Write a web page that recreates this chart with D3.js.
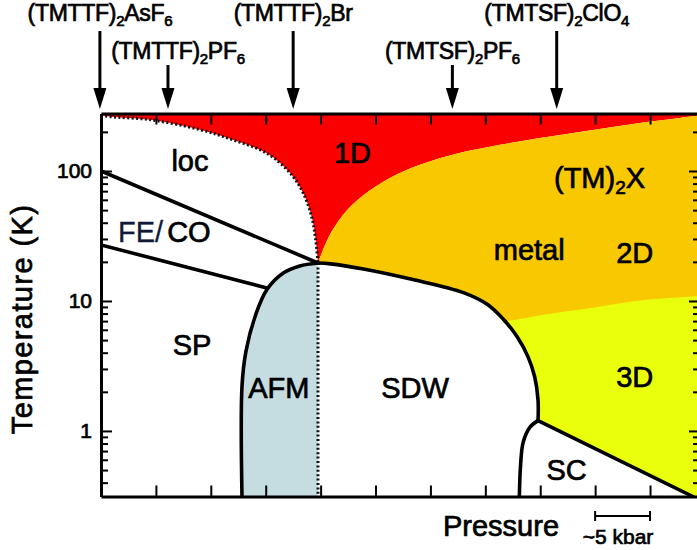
<!DOCTYPE html>
<html><head><meta charset="utf-8">
<script src="https://cdn.jsdelivr.net/npm/d3@7"></script>
<style>
body{margin:0;background:#fff}
svg{display:block}
text{font-family:"Liberation Sans",Arial,Helvetica,sans-serif;fill:#000;stroke:#000;stroke-width:0.7px}
</style>
</head><body>
<svg id="chart" width="697" height="550"></svg>
<script>
// ---------- data (pressure in kbar, temperature in K) ----------
const xTicks = [5,10,15,20,25,30,35,40,45,50];
const yMajorTicks = [1,10,100];
const yTickLabels = ["1","10","100"];
const yMinorTicks = [0.4,0.5,0.6,0.7,0.8,0.9,2,3,4,5,6,7,8,9,20,30,40,50,60,70,80,90,200];

const compoundNames = [
  [["(TMTTF)",0],["2",1],["AsF",0],["6",1]],
  [["(TMTTF)",0],["2",1],["PF",0],["6",1]],
  [["(TMTTF)",0],["2",1],["Br",0]],
  [["(TMTSF)",0],["2",1],["PF",0],["6",1]],
  [["(TMTSF)",0],["2",1],["ClO",0],["4",1]]
];
const compoundPressure = [-0.1, 6.1, 17.5, 32.0, 41.5];
const compoundRow = [0, 1, 0, 1, 0];

const locBoundary = [[0,268],[0.8,262],[4.5,248],[9,208],[12,174],[15.1,137],[17.2,97],[18.4,68],[19.2,44],[19.55,29.5],[19.76,19.6]];
const boundary1D2D = [[19.76,19.6],[20.9,33],[22.4,50],[24.5,71],[27,95],[30,119],[33,140],[35.4,154],[37.5,166],[40.6,183],[43.6,200],[46.6,218],[49.7,238],[52.7,256],[54.6,268]];
const boundary2D3D = [[36.5,6.9],[37.5,7.1],[40.6,7.9],[45.2,9.0],[49.7,10.2],[54.6,10.9]];
const sdwBoundary = [[19.76,19.6],[20.9,19.3],[23.9,17.6],[28.4,14.6],[33.0,11.6],[35.2,9.4],[36.6,7.3],[37.9,5.3],[38.9,3.7],[39.5,2.6],[39.8,1.73],[39.8,1.2]];
const scLeftBoundary = [[39.8,1.2],[39.07,1.07],[38.45,0.82],[38.2,0.53],[38.1,0.313]];
const scRightBoundary = [[39.8,1.2],[53.9,0.313]];
const afmBoundary = [[12.84,0.313],[12.84,2.2],[13.2,4.1],[14.1,7.9],[15.1,12.2],[16.6,16.4],[18.1,18.6],[19.76,19.6]];
const afmSdwBoundary = [[19.76,19.6],[19.76,0.313]];
const feCoUpper = [[0,100],[19.76,19.6]];
const feCoLower = [[0,27],[15.1,12.6]];

const regionLabels = [
  {t:"loc", p:8.1, T:100},
  {t:"SP", p:8.3, T:3.84},
  {t:"AFM", p:16.2, T:1.79},
  {t:"SDW", p:28.6, T:1.79},
  {t:"SC", p:42.4, T:0.42},
  {t:"1D", p:22.9, T:115},
  {t:"metal", p:39.0, T:20.6},
  {t:"2D", p:48.6, T:19.6},
  {t:"3D", p:48.6, T:2.18}
];

// ---------- layout ----------
const svg = d3.select("#chart");
const x = d3.scaleLinear().domain([0, 54.55]).range([101, 700]);
const y = d3.scaleLog().domain([0.313, 277]).range([496.5, 113.5]);
const [P0, P1] = x.domain();
const [T0, T1] = y.domain();

const COL = {red:"#fa0000", orange:"#f8c800", yellow:"#eaff0c", blue:"#c5dde0"};

svg.append("defs").append("clipPath").attr("id","plotclip")
  .append("rect").attr("x",101).attr("y",113.5).attr("width",599).attr("height",383);

const curve = d3.line().x(d=>x(d[0])).y(d=>y(d[1])).curve(d3.curveCatmullRom.alpha(0.5));
const straight = d3.line().x(d=>x(d[0])).y(d=>y(d[1]));
function poly(segs){
  return segs.map((s,i)=>{const p=(s[1]?curve:straight)(s[0]); return i? p.replace(/^M/,"L") : p;}).join("")+"Z";
}
const rev = a => a.slice().reverse();

const g = svg.append("g").attr("clip-path","url(#plotclip)");

// red (1D)
g.append("path").attr("fill",COL.red).attr("d", poly([
  [[[P0,T1*1.5],[P1+1,T1*1.5],[P1+1,boundary1D2D[boundary1D2D.length-1][1]]],0],
  [rev(boundary1D2D),1],
  [rev(locBoundary),1],
  [[[P0,T1*1.5]],0]
]));
// orange (2D)
g.append("path").attr("fill",COL.orange).attr("d", poly([
  [boundary1D2D,1],
  [[[P1+1,boundary1D2D[boundary1D2D.length-1][1]],[P1+1,T0*0.5],[19.76,T0*0.5]],0]
]));
// yellow (3D)
g.append("path").attr("fill",COL.yellow).attr("d", poly([
  [boundary2D3D,1],
  [[[P1+1,boundary2D3D[boundary2D3D.length-1][1]],[P1+1,T0*0.5],[36.5,T0*0.5]],0]
]));
// SDW white
g.append("path").attr("fill","#fff").attr("d", poly([
  [sdwBoundary,1],
  [scLeftBoundary,1],
  [[[38.1,T0*0.5],[19.76,T0*0.5]],0]
]));
// SC white
g.append("path").attr("fill","#fff").attr("d", poly([
  [scRightBoundary,0],
  [[[38.1,T0]],0],
  [rev(scLeftBoundary),1]
]));
// AFM
g.append("path").attr("fill",COL.blue).attr("d", poly([
  [afmBoundary,1],
  [[[19.76,T0*0.5],[12.84,T0*0.5]],0]
]));

// boundaries
const solid = (d,c)=>g.append("path").attr("d",(c?curve:straight)(d)).attr("fill","none")
  .attr("stroke","#000").attr("stroke-width",3.6).attr("stroke-linejoin","round").attr("stroke-linecap","round");
const dotted = (d,c)=>g.append("path").attr("d",(c?curve:straight)(d)).attr("fill","none")
  .attr("stroke","#111").attr("stroke-width",3).attr("stroke-dasharray","2,2.4");
dotted(locBoundary,1);
dotted(afmSdwBoundary,0);
solid(sdwBoundary,1);
solid(scLeftBoundary,1);
solid(scRightBoundary,0);
solid(afmBoundary,1);
solid(feCoUpper,0);
solid(feCoLower,0);

// axes
function styleAxis(sel, w){
  sel.select(".domain").attr("stroke","#000").attr("stroke-width",w||3);
  sel.selectAll(".tick line").attr("stroke","#000").attr("stroke-width",2);
}
styleAxis(svg.append("g").attr("transform","translate(0,496.5)")
  .call(d3.axisBottom(x).tickValues(xTicks).tickSize(-11).tickSizeOuter(0).tickFormat("")));
styleAxis(svg.append("g").attr("transform","translate(0,113.5)")
  .call(d3.axisTop(x).tickValues(xTicks).tickSize(-11).tickSizeOuter(0).tickFormat("")));
const leftAx = svg.append("g").attr("transform","translate(101,0)")
  .call(d3.axisLeft(y).tickValues(yMajorTicks).tickSize(-11).tickSizeOuter(0).tickPadding(9)
    .tickFormat((d,i)=>yTickLabels[i]));
styleAxis(leftAx);
leftAx.selectAll(".tick text").attr("font-size",21).attr("font-family","Liberation Sans, Arial, sans-serif").attr("fill","#000");
styleAxis(svg.append("g").attr("transform","translate(101,0)")
  .call(d3.axisLeft(y).tickValues(yMinorTicks).tickSize(-7).tickSizeOuter(0).tickFormat("")));
styleAxis(svg.append("g").attr("transform","translate(700,0)")
  .call(d3.axisRight(y).tickValues(yMajorTicks).tickSize(-11).tickSizeOuter(0).tickFormat("")));
styleAxis(svg.append("g").attr("transform","translate(700,0)")
  .call(d3.axisRight(y).tickValues(yMinorTicks).tickSize(-7).tickSizeOuter(0).tickFormat("")));

// region labels
svg.selectAll("text.region").data(regionLabels).join("text").attr("class","region")
  .attr("x",d=>x(d.p)).attr("y",d=>y(d.T)).attr("text-anchor","middle")
  .attr("font-size",29).text(d=>d.t);

// (TM)2X
const tmx = svg.append("text").attr("x",x(45.4)).attr("y",y(73.8)).attr("text-anchor","middle").attr("font-size",29);
tmx.append("tspan").text("(TM)");
tmx.append("tspan").attr("font-size",19).attr("dy",6).text("2");
tmx.append("tspan").attr("dy",-6).text("X");

// FE/CO
const feco = svg.append("text").attr("x",118).attr("y",242).attr("font-size",29);
feco.append("tspan").attr("fill","#121838").attr("stroke","#121838").attr("stroke-width",0.3).text("FE/");
feco.append("tspan").attr("dx",4).text("CO");

// compounds + arrows
const rowBase = [21, 59];
const rowArrowTop = [31, 65];
const labelShift = [0, 10, 0, 0, 0];
compoundNames.forEach((parts,i)=>{
  const px = x(compoundPressure[i]);
  const t = svg.append("text").attr("x",px+labelShift[i]).attr("y",rowBase[compoundRow[i]])
    .attr("text-anchor","middle").attr("font-size",23).attr("letter-spacing",-0.3);
  let sub=false;
  parts.forEach(([s,isSub])=>{
    const ts = t.append("tspan").text(s);
    if(isSub && !sub){ts.attr("font-size",15).attr("dy",5); sub=true;}
    else if(!isSub && sub){ts.attr("dy",-5); sub=false;}
    else if(isSub){ts.attr("font-size",15);}
  });
  svg.append("line").attr("x1",px).attr("x2",px).attr("y1",rowArrowTop[compoundRow[i]]).attr("y2",92)
    .attr("stroke","#000").attr("stroke-width",3);
  svg.append("path").attr("d",`M${px-6.5},88 L${px+6.5},88 L${px},109 Z`).attr("fill","#000");
});

// axis titles
svg.append("text").attr("x",501).attr("y",536).attr("text-anchor","middle").attr("font-size",29).text("Pressure");
svg.append("text").attr("transform","translate(32,319) rotate(-90)").attr("text-anchor","middle")
  .attr("font-size",29).attr("letter-spacing",1.4).text("Temperature (K)");

// scale bar (5 kbar)
const sbY = 516;
svg.append("line").attr("x1",x(45)).attr("x2",x(50)).attr("y1",sbY).attr("y2",sbY).attr("stroke","#000").attr("stroke-width",2);
[45,50].forEach(p=>svg.append("line").attr("x1",x(p)).attr("x2",x(p)).attr("y1",sbY-5).attr("y2",sbY+5).attr("stroke","#000").attr("stroke-width",2));
svg.append("text").attr("x",618).attr("y",544).attr("text-anchor","middle").attr("font-size",21).text("~5 kbar");
</script>
</body></html>
